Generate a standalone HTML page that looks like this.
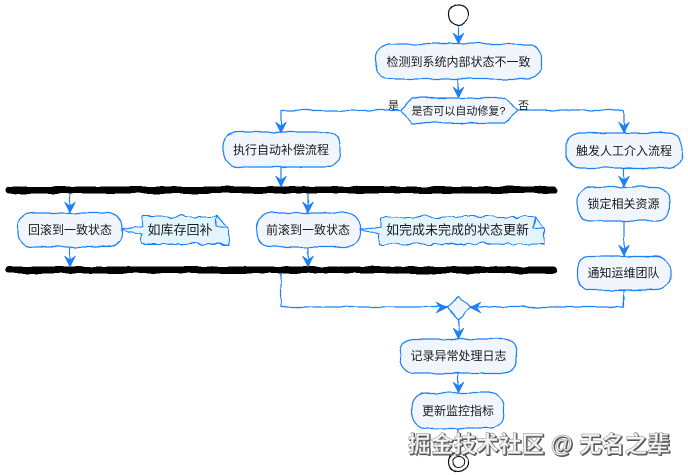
<!DOCTYPE html>
<html lang="zh"><head><meta charset="utf-8">
<style>
html,body{margin:0;padding:0;background:#fff;width:688px;height:475px;overflow:hidden}
svg{display:block}
text{font-family:"Liberation Sans","Noto Sans CJK SC",sans-serif;fill:#1a1a1a;text-anchor:middle}
.n{fill:#F1F6FC;stroke:#1E80F5;stroke-width:1.2}
.t{fill:#E3F4FC;stroke:#1E80F5;stroke-width:1.1}
.l{fill:none;stroke:#1E80F5;stroke-width:1.2}
.a{fill:#1E80F5;stroke:#1E80F5;stroke-width:.6}
.b{fill:#000;stroke:#000;stroke-width:1}
.wm{font-size:23px;font-weight:bold}
.w1{fill:#555;stroke:#555;stroke-width:.9}
.w2{fill:#f4f4f4;stroke:#8a8a8a;stroke-width:.5}
#all{filter:blur(.3px)}
</style></head><body>
<svg width="688" height="475" viewBox="0 0 688 475" xmlns="http://www.w3.org/2000/svg">
<defs>
<filter id="w" x="-5%" y="-5%" width="110%" height="110%" filterUnits="objectBoundingBox" primitiveUnits="userSpaceOnUse">
<feTurbulence type="fractalNoise" baseFrequency="0.06" numOctaves="2" seed="4" result="r"/>
<feDisplacementMap in="SourceGraphic" in2="r" scale="3.500" xChannelSelector="R" yChannelSelector="G"/>
</filter>
<filter id="w2" x="-5%" y="-15%" width="110%" height="130%" filterUnits="objectBoundingBox" primitiveUnits="userSpaceOnUse">
<feTurbulence type="fractalNoise" baseFrequency="0.09" numOctaves="2" seed="9" result="r"/>
<feDisplacementMap in="SourceGraphic" in2="r" scale="6" xChannelSelector="R" yChannelSelector="G"/>
</filter>
</defs>
<g id="all">
<g id="shapes" filter="url(#w)">
<rect x="0" y="0" width="688" height="475" fill="none"/>
<circle cx="458.500" cy="14.500" r="10" fill="#fff" stroke="#111" stroke-width="1.2"/>
<path class="l" d="M458.500 25V44M458.500 79V98"/>
<rect class="n" x="376" y="44" width="165" height="35" rx="14"/>
<path class="n" d="M400 110.500L412 98H505L517 110.500L505 123H412Z"/>
<path class="l" d="M400 110.500H281V132M517 110.500H624V133"/>
<rect class="n" x="223" y="132" width="117" height="35" rx="14"/>
<rect class="n" x="566" y="133" width="116" height="35" rx="14"/>
<path class="l" d="M281 167V187M624 168V187M624 221V256"/>
<rect class="b" x="6" y="187" width="551" height="6" rx="3"/>
<rect class="b" x="6" y="267" width="551" height="6" rx="3"/>
<path class="l" d="M70 193V213M308 193V213M70 247V267M308 247V267"/>
<rect class="n" x="18" y="213" width="104" height="34" rx="14"/>
<rect class="n" x="256" y="213" width="104" height="34" rx="14"/>
<rect class="n" x="577" y="187" width="93" height="34" rx="14"/>
<rect class="n" x="577" y="256" width="93" height="34" rx="14"/>
<path class="l" d="M281 273V307H447M624 290V307H470M458.500 319.500V339M458.500 373V393M458.500 428V452"/>
<path class="n" d="M458.500 295.500L470.500 307.500L458.500 319.500L446.500 307.500Z"/>
<rect class="n" x="400" y="339" width="117" height="34" rx="14"/>
<rect class="n" x="412" y="393" width="92" height="35" rx="14"/>
<circle cx="458.500" cy="462" r="10" fill="#fff" stroke="#111" stroke-width="1.2"/>
<circle cx="458.500" cy="462" r="6" fill="#fff" stroke="#111" stroke-width="1"/>
</g>
<g filter="url(#w2)">
<path class="t" d="M142 217H217L228 227V244H142V234L122 230L142 226Z"/>
<path class="l" d="M217 217V227H228"/>
<path class="t" d="M380 217H534L544 227V244H380V234L360 230L380 226Z"/>
<path class="l" d="M534 217V227H544"/>
</g>
<g>
<path class="a" d="M453 33L458.500 37L464 33L458.500 44ZM453 87L458.500 91L464 87L458.500 98ZM275.500 122L281 126L286.500 122L281 133ZM618.500 122L624 126L629.500 122L624 133ZM275.500 176L281 180L286.500 176L281 187ZM618.500 176L624 180L629.500 176L624 187ZM618.500 245L624 249L629.500 245L624 256ZM64.500 202L70 206L75.500 202L70 213ZM302.500 202L308 206L313.500 202L308 213ZM64.500 256L70 260L75.500 256L70 267ZM302.500 256L308 260L313.500 256L308 267ZM453 328L458.500 332L464 328L458.500 339ZM453 382L458.500 386L464 382L458.500 393Z"/>
<path class="a" d="M436 302L440 307.500L436 313L447 307.500ZM481 302L477 307.500L481 313L470 307.500Z"/>
</g>
<g font-size="12">
<text x="458.500" y="66">检测到系统内部状态不一致</text>
<text x="458.500" y="114.500" font-size="11">是否可以自动修复?</text>
<text x="393.500" y="109" font-size="11">是</text>
<text x="523.500" y="109" font-size="11">否</text>
<text x="281" y="154">执行自动补偿流程</text>
<text x="624" y="155">触发人工介入流程</text>
<text x="70" y="234">回滚到一致状态</text>
<text x="308" y="234">前滚到一致状态</text>
<text x="180" y="234.500" font-size="13">如库存回补</text>
<text x="457.500" y="234.500" font-size="13">如完成未完成的状态更新</text>
<text x="623.500" y="208">锁定相关资源</text>
<text x="623.500" y="277">通知运维团队</text>
<text x="458.500" y="360">记录异常处理日志</text>
<text x="458" y="415">更新监控指标</text>
</g>
<text class="wm w1" x="540" y="453" textLength="262" lengthAdjust="spacingAndGlyphs">掘金技术社区 @ 无名之辈</text>
<text class="wm w2" x="539" y="452" textLength="262" lengthAdjust="spacingAndGlyphs">掘金技术社区 @ 无名之辈</text>
</g>
</svg>
</body></html>
